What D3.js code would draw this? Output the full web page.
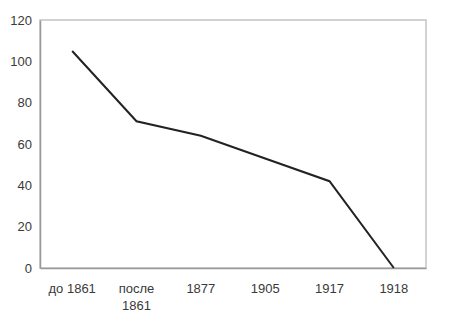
<!DOCTYPE html>
<html><head><meta charset="utf-8">
<script src="https://cdn.jsdelivr.net/npm/d3@7"></script>
<style>body{margin:0;background:#fff}svg{display:block}</style>
</head><body>
<svg id="c" width="462" height="320"></svg>
<script>
const categories = ["до 1861", "после 1861", "1877", "1905", "1917", "1918"];
const values = [105, 71, 64, 53, 42, 0];
const yTicks = [0, 20, 40, 60, 80, 100, 120];

const svg = d3.select("#c");
const m = {l: 40, r: 36, t: 20, b: 52};
const W = 462, H = 320;
const x = d3.scaleBand().domain(categories).range([m.l, W - m.r]);
const y = d3.scaleLinear().domain([0, 120]).range([H - m.b, m.t]);
const FONT = "Liberation Sans, Arial, sans-serif";

// frame
svg.append("rect").attr("x", m.l).attr("y", m.t)
  .attr("width", W - m.r - m.l).attr("height", H - m.b - m.t)
  .attr("fill", "none").attr("stroke", "#c4c4c4").attr("stroke-width", 1.5);

const yAxis = svg.append("g").attr("transform", `translate(${m.l},0)`)
  .call(d3.axisLeft(y).tickValues(yTicks).tickSize(0).tickPadding(8));
yAxis.select(".domain").attr("stroke", "#999").attr("stroke-width", 1.5);
yAxis.selectAll("text").attr("font-family", FONT)
  .attr("font-size", 13).attr("fill", "#3a3a3a");

const xAxis = svg.append("g").attr("transform", `translate(0,${H - m.b})`)
  .call(d3.axisBottom(x).tickSize(0).tickPadding(16).tickFormat(""));
xAxis.select(".domain").attr("stroke", "#999").attr("stroke-width", 1.5);
xAxis.selectAll(".tick").each(function(d) {
  const parts = d.split(" ");
  const lines = d === "после 1861" ? parts : [d];
  const t = d3.select(this).append("text")
    .attr("text-anchor", "middle").attr("font-family", FONT)
    .attr("font-size", 13).attr("fill", "#3a3a3a");
  lines.forEach((s, i) => t.append("tspan").attr("x", 0).attr("y", 25 + i * 17).text(s));
});

const line = d3.line().x((d, i) => x(categories[i]) + x.bandwidth() / 2).y(d => y(d));
svg.append("path").datum(values).attr("d", line)
  .attr("fill", "none").attr("stroke", "#222").attr("stroke-width", 2);
</script>
</body></html>
